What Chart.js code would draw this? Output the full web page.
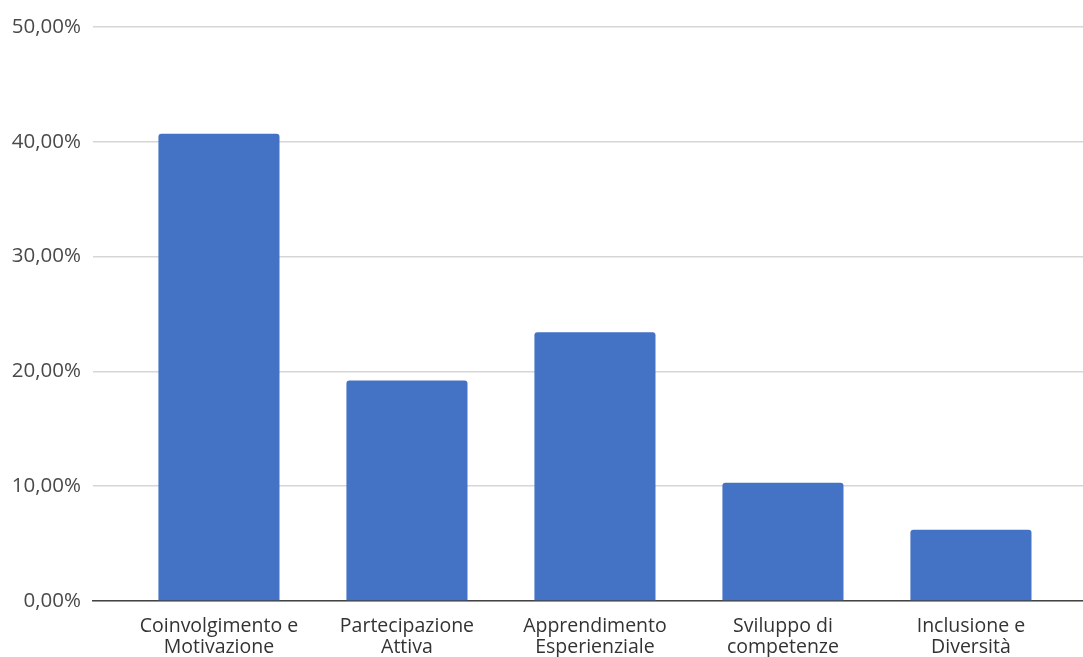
<!DOCTYPE html>
<html>
<head>
<meta charset="utf-8">
<script src="https://cdn.jsdelivr.net/npm/chart.js@4/dist/chart.umd.min.js"></script>
<style>
  html, body { margin: 0; padding: 0; background: #ffffff; }
  #wrap { width: 1083px; height: 657px; }
</style>
</head>
<body>
<div id="wrap"><canvas id="c" width="1083" height="657"></canvas></div>
<script>
// Categories (each label split over two lines)
const categories = [
  ["Coinvolgimento e", "Motivazione"],
  ["Partecipazione", "Attiva"],
  ["Apprendimento", "Esperienziale"],
  ["Sviluppo di", "competenze"],
  ["Inclusione e", "Diversità"]
];
// Share of responses, in percent
const shares = [40.7, 19.2, 23.4, 10.3, 6.2];
// Y-axis tick values
const yTicks = [0, 10, 20, 30, 40, 50];

const points = shares.map((v, i) => ({ x: i, y: v }));

const fmtPct = v => v.toFixed(2).replace('.', ',') + '%';

new Chart(document.getElementById('c'), {
  type: 'bar',
  data: {
    datasets: [{
      data: points,
      backgroundColor: '#4472c4',
      borderWidth: 0,
      borderRadius: 3,
      borderSkipped: 'bottom',
      categoryPercentage: 1,
      barPercentage: 0.644
    }]
  },
  options: {
    responsive: false,
    animation: false,
    layout: { padding: { top: 27, right: 0, bottom: 0, left: 0 } },
    plugins: { legend: { display: false }, tooltip: { enabled: false } },
    scales: {
      x: {
        type: 'linear',
        offset: false,
        min: -0.67,
        max: 4.596,
        grid: { display: false, drawTicks: false },
        border: { display: true, color: '#444444', width: 1.5 },
        afterFit: s => { s.height = 56; },
        afterBuildTicks: s => {
          s.ticks = categories.map((_, i) => ({ value: i }));
        },
        ticks: {
          autoSkip: false,
          maxRotation: 0,
          minRotation: 0,
          padding: 15,
          color: '#333333',
          font: { family: 'Open Sans', size: 19.5, lineHeight: 1.08 },
          callback: v => (Number.isInteger(v) && categories[v]) ? categories[v] : ''
        }
      },
      y: {
        min: 0,
        max: 50,
        afterFit: s => { s.width = 93; },
        afterBuildTicks: s => {
          s.ticks = yTicks.map(v => ({ value: v }));
        },
        grid: { color: '#d6d6d6', lineWidth: 1.5, drawTicks: false },
        border: { display: false },
        ticks: {
          padding: 12,
          color: '#4a4a4a',
          font: { family: 'Open Sans', size: 20.5 },
          callback: v => fmtPct(v)
        }
      }
    }
  }
});
</script>
</body>
</html>
